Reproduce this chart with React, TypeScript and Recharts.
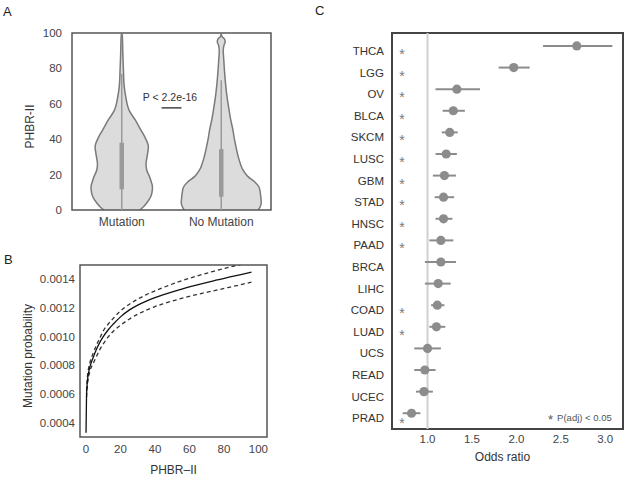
import React from 'react';
import {
  ComposedChart, Area, XAxis, YAxis, ReferenceLine, ReferenceArea, ReferenceDot,
  LineChart, Line, ScatterChart, Scatter, ErrorBar,
} from 'recharts';

const FONT = '"Liberation Sans", Arial, sans-serif';
const TEXT = '#333';
const TICK = { fontSize: 11.5, fill: '#444', fontFamily: FONT };

// ---------- A: violin plot of PHBR-II ----------
const groups = ['Mutation', 'No Mutation'];
const phbrLevels = [0, 2, 4, 7.5, 10, 13, 16, 19, 22.6, 26, 30, 35.7, 41, 45, 51, 56, 64, 71, 79, 85, 90, 93, 95, 96.8, 98, 99.5];
// half width of each violin at the levels above (x-axis units)
const mutationWidth = [0.181, 0.221, 0.251, 0.291, 0.304, 0.309, 0.296, 0.278, 0.251, 0.244, 0.254, 0.268, 0.234, 0.194, 0.134, 0.077, 0.04, 0.023, 0.017, 0.013, 0.01, 0.009, 0.008, 0.007, 0.006, 0.002];
const noMutationWidth = [0.372, 0.392, 0.402, 0.397, 0.392, 0.379, 0.335, 0.266, 0.218, 0.193, 0.171, 0.148, 0.129, 0.118, 0.095, 0.08, 0.058, 0.044, 0.032, 0.025, 0.02, 0.027, 0.04, 0.03, 0.008, 0];
const boxLow = [11.7, 7.5];
const boxHigh = [38, 34.4];
const whiskerHigh = [77, 73.3];
const pValueText = 'P < 2.2e-16';

// ---------- B: fitted mutation probability ----------
const phbrFit = [0, 0.3, 0.8, 1.5, 2.5, 4, 6, 8, 10, 13, 16, 20, 25, 30, 35, 40, 45, 54, 64, 74, 85, 96];
const probFit = [0.00033, 0.0006, 0.00069, 0.00075, 0.0008, 0.00085, 0.00091, 0.00096, 0.001, 0.00105, 0.00109, 0.001138, 0.001185, 0.00122, 0.001248, 0.001272, 0.001293, 0.001327, 0.00136, 0.00139, 0.00142, 0.00145];
const probUpper = [null, 0.00062, 0.00072, 0.00078, 0.00083, 0.00088, 0.00094, 0.00099, 0.00104, 0.00109, 0.00113, 0.00118, 0.001225, 0.001262, 0.001293, 0.00132, 0.001344, 0.001384, 0.001422, 0.001456, 0.00149, 0.00152];
const probLower = [null, 0.00058, 0.00066, 0.00072, 0.00077, 0.00081, 0.00086, 0.00091, 0.00095, 0.001, 0.00104, 0.00108, 0.001122, 0.001157, 0.001185, 0.00121, 0.00123, 0.001262, 0.001293, 0.00132, 0.00135, 0.00138];
const probTicks = [0.0004, 0.0006, 0.0008, 0.001, 0.0012, 0.0014];

// ---------- C: odds ratios per cancer type ----------
const cancers = ['THCA', 'LGG', 'OV', 'BLCA', 'SKCM', 'LUSC', 'GBM', 'STAD', 'HNSC', 'PAAD', 'BRCA', 'LIHC', 'COAD', 'LUAD', 'UCS', 'READ', 'UCEC', 'PRAD'];
const oddsRatio = [2.68, 1.97, 1.33, 1.29, 1.25, 1.21, 1.19, 1.18, 1.18, 1.15, 1.15, 1.12, 1.11, 1.1, 1.0, 0.97, 0.96, 0.82];
const ciLow = [2.3, 1.8, 1.09, 1.17, 1.16, 1.09, 1.06, 1.08, 1.09, 1.02, 0.97, 0.97, 1.04, 1.02, 0.85, 0.85, 0.87, 0.72];
const ciHigh = [3.08, 2.15, 1.59, 1.42, 1.34, 1.33, 1.32, 1.3, 1.28, 1.29, 1.32, 1.26, 1.19, 1.2, 1.15, 1.09, 1.06, 0.92];
const significant = [1, 1, 1, 1, 1, 1, 1, 1, 1, 1, 0, 0, 1, 1, 0, 0, 0, 1];
const orTicks = [1, 1.5, 2, 2.5, 3];

const violinData = phbrLevels.map((y, i) => ({
  y,
  mut: [1 - mutationWidth[i], 1 + mutationWidth[i]],
  nomut: [2 - noMutationWidth[i], 2 + noMutationWidth[i]],
}));

const fitData = phbrFit.map((x, i) => ({ x, fit: probFit[i], upper: probUpper[i], lower: probLower[i] }));

const orData = cancers.map((name, i) => ({
  i, name, or: oddsRatio[i], err: [oddsRatio[i] - ciLow[i], ciHigh[i] - oddsRatio[i]],
}));

const VTitle = ({ viewBox, text, dx = 0, dy = 0 }: any) => {
  const x = viewBox.x + dx;
  const y = viewBox.y + viewBox.height / 2 + dy;
  return (
    <text x={x} y={y} transform={`rotate(-90 ${x} ${y})`} textAnchor="middle" dominantBaseline="central"
      fontSize={12} fill={TEXT} fontFamily={FONT}>{text}</text>
  );
};

const HTitle = ({ viewBox, text, dx = 0, dy = 0 }: any) => (
  <text x={viewBox.x + viewBox.width / 2 + dx} y={viewBox.y + dy} textAnchor="middle" dominantBaseline="central"
    fontSize={12} fill={TEXT} fontFamily={FONT}>{text}</text>
);

const Note = ({ viewBox, text }: any) => (
  <text x={viewBox.x} y={viewBox.y} textAnchor="middle" dominantBaseline="central" fontSize={10.5} fill={TEXT} fontFamily={FONT}>{text}</text>
);

const StarNote = ({ viewBox }: any) => (
  <g fontFamily={FONT} fill="#555">
    <text x={viewBox.x} y={viewBox.y + 7} fontSize={13}>*</text>
    <text x={viewBox.x + 9} y={viewBox.y} dominantBaseline="central" fontSize={9.5}>P(adj) &lt; 0.05</text>
  </g>
);

const CancerTick = ({ x, y, payload }: any) => {
  const i = payload.value;
  return (
    <g fontFamily={FONT}>
      <text x={x} y={y + 5} dy="0.35em" textAnchor="end" fontSize={11.5} fill="#333">{cancers[i]}</text>
      {significant[i] ? (
        <text x={x + 18} y={y + 13 + (i === cancers.length - 1 ? 2 : 0)} textAnchor="middle" fontSize={14} fill="#777">*</text>
      ) : null}
    </g>
  );
};

const PanelA = () => (
  <ComposedChart width={290} height={240} layout="vertical" data={violinData}
    margin={{ top: 33, right: 19, bottom: 10, left: 20 }}>
    <XAxis type="number" domain={[0.5, 2.5]} ticks={[1, 2]} tickFormatter={(v) => groups[v - 1]}
      axisLine={false} tickLine={false} tickSize={0} tickMargin={7} height={20}
      tick={{ ...TICK, fontSize: 12 }} allowDataOverflow />
    <YAxis type="number" dataKey="y" domain={[0, 100]} ticks={[0, 20, 40, 60, 80, 100]} reversed
      axisLine={false} tickLine={false} tickSize={0} tickMargin={10} width={52} tick={TICK}
      allowDataOverflow label={<VTitle text="PHBR-II" dx={10} dy={5} />} />
    <Area dataKey="mut" type="monotone" fill="#dcdcdc" fillOpacity={1} stroke="#7a7a7a" strokeWidth={1.5}
      dot={false} activeDot={false} isAnimationActive={false} />
    <Area dataKey="nomut" type="monotone" fill="#dcdcdc" fillOpacity={1} stroke="#7a7a7a" strokeWidth={1.5}
      dot={false} activeDot={false} isAnimationActive={false} />
    {groups.map((g, i) => (
      <ReferenceLine key={g + 'w'} segment={[{ x: i + 1, y: 0 }, { x: i + 1, y: whiskerHigh[i] }]}
        stroke="#9a9a9a" strokeWidth={1.5} />
    ))}
    {groups.map((g, i) => (
      <ReferenceLine key={g + 'b'} segment={[{ x: i + 1, y: boxLow[i] }, { x: i + 1, y: boxHigh[i] }]}
        stroke="#9a9a9a" strokeWidth={4.5} />
    ))}
    <ReferenceLine segment={[{ x: 1.4, y: 57.7 }, { x: 1.6, y: 57.7 }]} stroke="#444" strokeWidth={1.5} />
    <ReferenceDot x={1.485} y={63.9} r={0} fill="none" stroke="none" label={<Note text={pValueText} />} />
    <ReferenceArea x1={0.5} x2={2.5} y1={0} y2={100} fill="none" stroke="#555" strokeWidth={1.5} />
  </ComposedChart>
);

const PanelB = () => (
  <LineChart width={290} height={240} data={fitData} margin={{ top: 25, right: 23, bottom: 13, left: 20 }}>
    <XAxis type="number" dataKey="x" domain={[-3.5, 105]} ticks={[0, 20, 40, 60, 80, 100]}
      axisLine={false} tickLine={false} tickSize={0} tickMargin={8} height={30} tick={TICK}
      allowDataOverflow label={<HTitle text="PHBR–II" dy={33} />} />
    <YAxis type="number" domain={[0.0003, 0.0015]} ticks={probTicks} tickFormatter={(v) => v.toFixed(4)}
      axisLine={false} tickLine={false} tickSize={0} tickMargin={5} width={60} tick={TICK}
      allowDataOverflow label={<VTitle text="Mutation probability" dx={8} dy={5} />} />
    <Line dataKey="upper" type="monotone" stroke="#333" strokeWidth={1.3} strokeDasharray="4 3"
      dot={false} activeDot={false} isAnimationActive={false} />
    <Line dataKey="lower" type="monotone" stroke="#333" strokeWidth={1.3} strokeDasharray="4 3"
      dot={false} activeDot={false} isAnimationActive={false} />
    <Line dataKey="fit" type="monotone" stroke="#111" strokeWidth={1.3}
      dot={false} activeDot={false} isAnimationActive={false} />
    <ReferenceArea x1={-3.5} x2={105} y1={0.0003} y2={0.0015} fill="none" stroke="#555" strokeWidth={1.5} />
  </LineChart>
);

const PanelC = () => (
  <ScatterChart width={305} height={480} margin={{ top: 33, right: 2, bottom: 16, left: 2 }}>
    <XAxis type="number" dataKey="or" domain={[0.6, 3.2]} ticks={orTicks} tickFormatter={(v) => v.toFixed(1)}
      axisLine={false} tickLine={false} tickSize={0} tickMargin={6} height={35} tick={TICK}
      allowDataOverflow label={<HTitle text="Odds ratio" dx={-5} dy={28} />} />
    <YAxis type="number" dataKey="i" domain={[-0.6, 17.73]} reversed ticks={cancers.map((_, i) => i)} interval={0}
      axisLine={false} tickLine={false} tickSize={0} tickMargin={8} width={70} tick={<CancerTick />}
      allowDataOverflow />
    <ReferenceLine x={1} stroke="#d0d0d0" strokeWidth={2} />
    <Scatter data={orData} isAnimationActive={false}
      shape={(p: any) => <circle cx={p.cx} cy={p.cy} r={4.6} fill="#8c8c8c" />}>
      <ErrorBar dataKey="err" direction="x" width={0} stroke="#8c8c8c" strokeWidth={2} isAnimationActive={false} />
    </Scatter>
    <ReferenceDot x={2.357} y={17.18} r={0} fill="none" stroke="none" label={<StarNote />} />
    <ReferenceArea x1={0.6} x2={3.2} y1={-0.6} y2={17.73} fill="none" stroke="#444" strokeWidth={2} />
  </ScatterChart>
);

export default function App() {
  return (
    <div style={{ position: 'absolute', left: 0, top: 0, width: 625, height: 480, background: '#fff', fontFamily: FONT }}>
      <div style={{ position: 'absolute', left: 0, top: 0 }}><PanelA /></div>
      <div style={{ position: 'absolute', left: 0, top: 240 }}><PanelB /></div>
      <div style={{ position: 'absolute', left: 320, top: 0 }}><PanelC /></div>
      <svg width={625} height={480} style={{ position: 'absolute', left: 0, top: 0, pointerEvents: 'none' }}>
        <g fontFamily={FONT} fontSize={13} fill="#222">
          <text x={3} y={16}>A</text>
          <text x={4} y={264}>B</text>
          <text x={315} y={15}>C</text>
        </g>
      </svg>
    </div>
  );
}
